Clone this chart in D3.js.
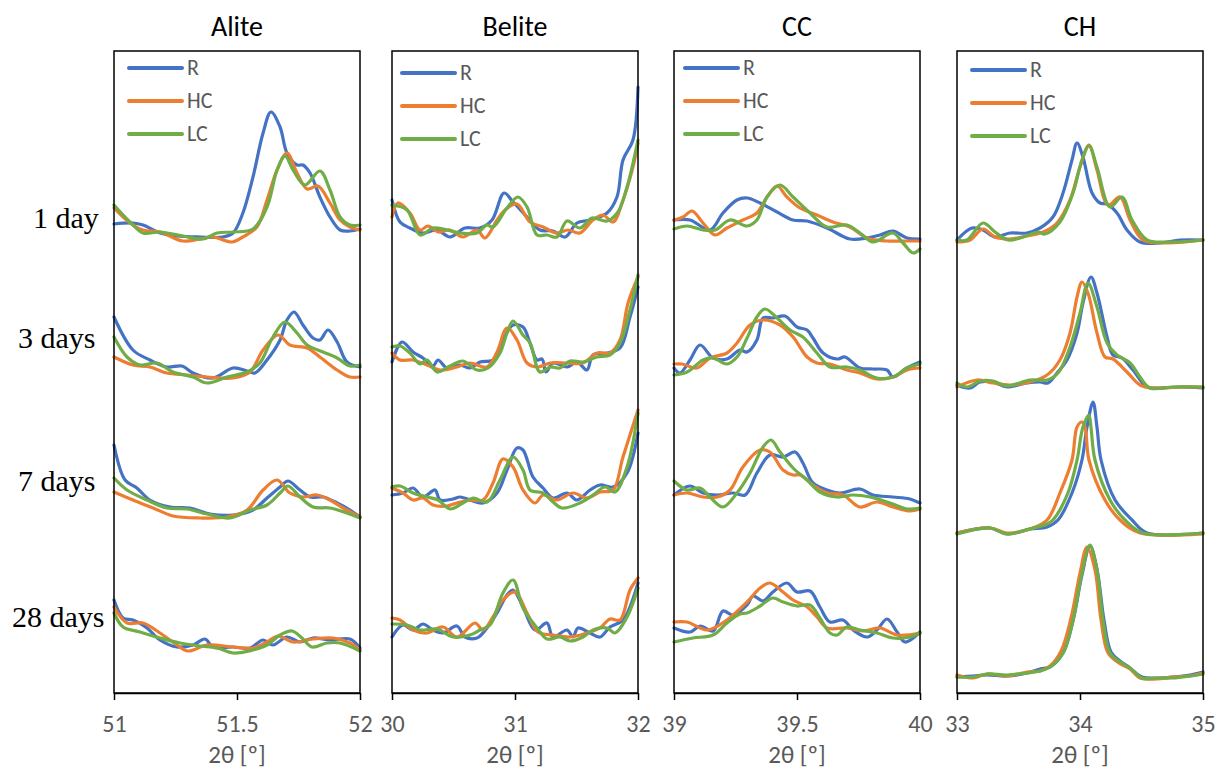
<!DOCTYPE html>
<html>
<head>
<meta charset="utf-8">
<script src="https://cdn.jsdelivr.net/npm/d3@7"></script>
<style>
  html, body { margin: 0; padding: 0; background: #fff; }
  svg { display: block; }
</style>
</head>
<body>
<svg id="chart" width="1216" height="769"></svg>
<script>
// ---------------- data ----------------
const panelNames = ["Alite", "Belite", "CC", "CH"];
const rowLabels = ["1 day", "3 days", "7 days", "28 days"];
const seriesNames = ["R", "HC", "LC"];
const seriesColors = ["#4472C4", "#ED7D31", "#70AD47"];
const xDomains = [[51, 52], [30, 32], [39, 40], [33, 35]];
const xTickValues = [[51, 51.5, 52], [30, 31, 32], [39, 39.5, 40], [33, 34, 35]];
const yDomain = [0, 642]; // stacked intensity, a.u.
const axisTitle = "2θ [º]";

// Alite: [1 day, 3 days, 7 days, 28 days], each a list of [2θ, intensity]
const aliteR = [
  [[51.000,469],[51.077,470],[51.118,468],[51.187,460],[51.256,457],[51.350,456],[51.443,456],[51.484,460],[51.524,480],[51.565,516],[51.606,560],[51.638,581],[51.675,566],[51.703,540],[51.744,528],[51.768,528],[51.797,520],[51.837,496],[51.878,476],[51.919,463],[51.959,462],[52.000,464]],
  [[51.000,376],[51.077,343],[51.146,333],[51.215,326],[51.276,327],[51.321,320],[51.402,315],[51.484,325],[51.541,322],[51.573,320],[51.622,333],[51.675,353],[51.703,373],[51.732,381],[51.768,368],[51.809,355],[51.837,353],[51.870,363],[51.907,351],[51.947,331],[52.000,326]],
  [[51.000,248],[51.045,213],[51.093,205],[51.146,193],[51.228,186],[51.309,185],[51.390,179],[51.484,178],[51.565,183],[51.622,195],[51.675,206],[51.707,212],[51.756,203],[51.797,196],[51.850,196],[51.907,190],[51.959,183],[52.000,176]],
  [[51.000,93],[51.037,75],[51.077,73],[51.134,65],[51.187,53],[51.256,46],[51.321,48],[51.370,54],[51.402,46],[51.484,46],[51.553,45],[51.606,53],[51.646,48],[51.703,56],[51.756,51],[51.809,55],[51.878,53],[51.959,54],[52.000,45]]
];
const aliteHC = [
  [[51.000,485],[51.065,470],[51.118,463],[51.187,461],[51.280,452],[51.350,454],[51.402,456],[51.480,451],[51.524,456],[51.581,466],[51.622,493],[51.663,523],[51.703,540],[51.744,520],[51.785,504],[51.829,507],[51.878,490],[51.919,473],[51.959,466],[52.000,463]],
  [[51.000,336],[51.077,328],[51.146,326],[51.215,320],[51.297,318],[51.378,316],[51.484,315],[51.553,321],[51.606,343],[51.667,358],[51.715,348],[51.785,345],[51.837,336],[51.907,323],[51.959,316],[52.000,316]],
  [[51.000,201],[51.077,193],[51.159,185],[51.240,177],[51.350,175],[51.459,176],[51.541,183],[51.606,203],[51.663,213],[51.715,200],[51.768,196],[51.825,198],[51.878,193],[51.931,185],[52.000,176]],
  [[51.000,86],[51.053,70],[51.118,70],[51.187,60],[51.256,48],[51.301,42],[51.378,48],[51.484,46],[51.565,45],[51.622,51],[51.667,57],[51.728,51],[51.809,54],[51.890,55],[51.959,50],[52.000,43]]
];
const aliteLC = [
  [[51.000,488],[51.065,471],[51.118,460],[51.187,461],[51.280,457],[51.362,454],[51.419,460],[51.484,461],[51.565,464],[51.622,486],[51.663,523],[51.695,537],[51.728,523],[51.776,508],[51.837,522],[51.878,503],[51.919,476],[51.959,468],[52.000,468]],
  [[51.000,356],[51.053,336],[51.106,328],[51.175,330],[51.240,321],[51.321,316],[51.378,310],[51.459,316],[51.541,321],[51.593,330],[51.646,356],[51.695,371],[51.744,360],[51.785,348],[51.850,341],[51.907,335],[51.959,327],[52.000,328]],
  [[51.000,215],[51.053,203],[51.134,193],[51.215,185],[51.297,184],[51.378,179],[51.472,175],[51.553,183],[51.622,188],[51.675,200],[51.707,207],[51.756,196],[51.809,186],[51.878,185],[51.947,180],[52.000,175]],
  [[51.000,80],[51.037,66],[51.106,61],[51.187,55],[51.268,50],[51.350,47],[51.419,45],[51.484,40],[51.565,43],[51.622,48],[51.675,58],[51.724,62],[51.764,55],[51.805,46],[51.866,50],[51.919,50],[52.000,42]]
];

// Belite
const beliteR = [
  [[30.000,493],[30.065,471],[30.146,465],[30.252,460],[30.366,463],[30.472,456],[30.593,465],[30.715,465],[30.813,473],[30.911,500],[30.984,491],[31.098,476],[31.203,463],[31.309,462],[31.407,456],[31.504,470],[31.610,473],[31.748,480],[31.829,496],[31.878,533],[31.959,553],[32.000,606]],
  [[30.000,331],[30.081,351],[30.171,341],[30.252,335],[30.333,327],[30.374,333],[30.447,325],[30.553,328],[30.634,325],[30.715,331],[30.821,333],[30.902,353],[30.984,368],[31.065,366],[31.122,350],[31.179,333],[31.220,334],[31.252,321],[31.309,330],[31.423,326],[31.504,331],[31.585,323],[31.634,338],[31.748,340],[31.854,345],[31.935,376],[32.000,406]],
  [[30.000,198],[30.089,200],[30.171,205],[30.252,196],[30.350,203],[30.390,193],[30.496,194],[30.553,196],[30.634,193],[30.740,190],[30.854,200],[30.935,223],[31.016,245],[31.065,243],[31.146,216],[31.228,205],[31.309,195],[31.423,200],[31.504,193],[31.610,203],[31.691,208],[31.797,206],[31.911,220],[32.000,260]],
  [[30.000,56],[30.089,68],[30.171,63],[30.252,69],[30.333,63],[30.415,60],[30.528,67],[30.593,56],[30.691,55],[30.772,65],[30.854,80],[30.935,98],[30.984,103],[31.065,86],[31.163,63],[31.260,70],[31.309,56],[31.423,63],[31.472,56],[31.512,65],[31.610,60],[31.691,56],[31.772,66],[31.878,73],[32.000,110]]
];
const beliteHC = [
  [[30.000,476],[30.049,490],[30.146,480],[30.228,463],[30.293,467],[30.374,461],[30.472,463],[30.577,456],[30.691,463],[30.756,455],[30.854,473],[30.919,483],[31.016,489],[31.122,471],[31.228,466],[31.341,460],[31.431,463],[31.528,460],[31.634,473],[31.715,478],[31.797,471],[31.878,493],[31.959,526],[32.000,550]],
  [[30.000,340],[30.065,333],[30.171,333],[30.285,328],[30.390,323],[30.528,326],[30.634,330],[30.772,326],[30.854,341],[30.935,365],[31.016,353],[31.098,330],[31.187,326],[31.285,330],[31.423,330],[31.553,330],[31.667,340],[31.772,340],[31.854,353],[31.919,390],[32.000,416]],
  [[30.000,205],[30.089,200],[30.171,193],[30.252,195],[30.333,188],[30.447,187],[30.528,190],[30.634,193],[30.740,193],[30.821,210],[30.902,234],[30.984,226],[31.065,203],[31.163,190],[31.228,198],[31.341,193],[31.472,200],[31.585,195],[31.691,201],[31.797,203],[31.878,236],[32.000,283]],
  [[30.000,75],[30.065,73],[30.171,63],[30.285,60],[30.415,66],[30.528,56],[30.675,70],[30.740,63],[30.821,76],[30.902,93],[31.000,101],[31.098,80],[31.187,61],[31.309,58],[31.447,56],[31.585,60],[31.691,65],[31.772,74],[31.854,73],[31.935,103],[32.000,115]]
];
const beliteLC = [
  [[30.000,488],[30.122,483],[30.228,458],[30.333,465],[30.447,463],[30.553,460],[30.691,460],[30.772,468],[30.821,466],[30.935,485],[31.024,496],[31.098,486],[31.179,458],[31.260,458],[31.341,456],[31.423,472],[31.528,465],[31.626,475],[31.748,472],[31.837,481],[31.911,506],[32.000,553]],
  [[30.000,346],[30.065,347],[30.146,340],[30.228,329],[30.285,333],[30.366,321],[30.472,327],[30.577,332],[30.691,323],[30.780,325],[30.878,340],[30.935,360],[30.984,372],[31.065,358],[31.122,350],[31.203,321],[31.285,326],[31.366,325],[31.447,332],[31.553,331],[31.667,336],[31.772,338],[31.854,350],[31.935,383],[32.000,418]],
  [[30.000,206],[30.065,207],[30.171,200],[30.285,196],[30.374,193],[30.472,184],[30.577,190],[30.659,195],[30.772,191],[30.878,213],[30.984,236],[31.065,223],[31.122,203],[31.228,200],[31.309,191],[31.382,185],[31.528,190],[31.634,198],[31.732,206],[31.813,201],[31.911,226],[32.000,280]],
  [[30.000,69],[30.122,68],[30.228,63],[30.366,64],[30.496,56],[30.634,58],[30.715,63],[30.797,68],[30.902,100],[30.984,113],[31.065,85],[31.179,65],[31.260,54],[31.366,56],[31.447,52],[31.553,56],[31.634,63],[31.748,65],[31.813,60],[31.911,76],[32.000,105]]
];

// CC
const ccR = [
  [[39.000,473],[39.065,473],[39.146,463],[39.199,480],[39.256,493],[39.297,495],[39.350,490],[39.419,481],[39.484,473],[39.541,472],[39.622,465],[39.715,454],[39.785,455],[39.837,458],[39.890,462],[39.947,455],[40.000,454]],
  [[39.000,325],[39.024,320],[39.065,333],[39.106,348],[39.159,335],[39.215,334],[39.268,343],[39.297,341],[39.337,353],[39.362,375],[39.402,375],[39.451,377],[39.500,366],[39.541,363],[39.565,355],[39.606,340],[39.663,334],[39.695,336],[39.756,325],[39.809,324],[39.866,323],[39.890,316],[39.947,325],[40.000,331]],
  [[39.000,198],[39.065,207],[39.118,200],[39.175,198],[39.240,200],[39.289,198],[39.337,220],[39.390,238],[39.443,236],[39.492,241],[39.524,230],[39.565,210],[39.622,203],[39.675,200],[39.756,204],[39.809,198],[39.890,196],[39.959,194],[40.000,190]],
  [[39.000,65],[39.065,61],[39.106,67],[39.159,62],[39.199,82],[39.240,78],[39.297,88],[39.321,97],[39.362,92],[39.402,101],[39.459,110],[39.500,101],[39.553,102],[39.593,86],[39.634,71],[39.687,73],[39.728,63],[39.785,56],[39.825,63],[39.866,74],[39.907,61],[39.939,51],[40.000,61]]
];
const ccHC = [
  [[39.000,473],[39.037,476],[39.073,482],[39.118,470],[39.167,458],[39.215,465],[39.280,473],[39.337,480],[39.378,496],[39.419,507],[39.459,496],[39.512,485],[39.581,478],[39.646,471],[39.715,466],[39.785,455],[39.866,452],[39.947,452],[40.000,452]],
  [[39.000,329],[39.033,329],[39.093,325],[39.146,335],[39.215,340],[39.256,350],[39.309,368],[39.362,373],[39.431,368],[39.484,356],[39.541,336],[39.581,330],[39.634,329],[39.703,323],[39.756,320],[39.825,314],[39.890,316],[39.947,323],[40.000,325]],
  [[39.000,198],[39.053,200],[39.118,196],[39.175,196],[39.228,203],[39.280,226],[39.350,243],[39.390,241],[39.443,223],[39.484,218],[39.512,218],[39.565,208],[39.622,200],[39.687,198],[39.756,186],[39.825,191],[39.890,186],[39.959,182],[40.000,184]],
  [[39.000,71],[39.053,71],[39.134,63],[39.215,73],[39.297,91],[39.350,105],[39.390,110],[39.443,101],[39.484,93],[39.541,86],[39.581,76],[39.622,65],[39.703,65],[39.768,62],[39.837,65],[39.907,58],[40.000,60]]
];
const ccLC = [
  [[39.000,464],[39.053,467],[39.118,463],[39.167,463],[39.228,473],[39.297,467],[39.337,473],[39.378,496],[39.431,508],[39.484,496],[39.553,480],[39.622,466],[39.703,468],[39.756,460],[39.809,451],[39.890,460],[39.931,450],[39.972,440],[40.000,444]],
  [[39.000,318],[39.053,321],[39.118,333],[39.159,335],[39.215,329],[39.256,336],[39.297,355],[39.337,376],[39.370,384],[39.419,375],[39.472,363],[39.524,356],[39.581,340],[39.634,326],[39.703,326],[39.756,323],[39.825,315],[39.890,316],[39.947,325],[40.000,329]],
  [[39.000,212],[39.053,203],[39.106,205],[39.146,196],[39.199,186],[39.256,200],[39.309,220],[39.362,246],[39.394,253],[39.431,241],[39.484,225],[39.541,213],[39.593,201],[39.663,196],[39.728,198],[39.797,196],[39.878,190],[39.947,184],[40.000,185]],
  [[39.000,51],[39.077,55],[39.159,58],[39.215,70],[39.268,79],[39.297,80],[39.350,87],[39.402,95],[39.443,91],[39.500,87],[39.553,88],[39.593,75],[39.634,60],[39.663,58],[39.703,66],[39.756,63],[39.825,60],[39.890,55],[39.959,56],[40.000,60]]
];

// CH
const chR = [
  [[33.000,453],[33.122,465],[33.211,463],[33.309,456],[33.431,460],[33.569,460],[33.675,465],[33.780,476],[33.862,500],[33.935,533],[33.976,550],[34.024,536],[34.098,500],[34.163,490],[34.220,489],[34.301,480],[34.382,463],[34.488,451],[34.650,450],[34.813,453],[35.000,453]],
  [[33.000,308],[33.106,305],[33.187,311],[33.293,311],[33.407,306],[33.569,310],[33.675,311],[33.740,310],[33.813,320],[33.894,333],[33.976,360],[34.024,390],[34.089,416],[34.138,400],[34.220,356],[34.268,338],[34.341,335],[34.431,323],[34.545,306],[34.650,305],[34.813,306],[35.000,305]],
  [[33.000,160],[33.268,165],[33.407,159],[33.593,164],[33.732,166],[33.821,173],[33.935,200],[34.016,233],[34.057,266],[34.106,291],[34.138,266],[34.171,233],[34.285,193],[34.423,173],[34.545,160],[35.000,160]],
  [[33.000,16],[33.130,17],[33.244,18],[33.407,17],[33.569,20],[33.675,24],[33.756,26],[33.862,40],[33.943,72],[34.016,118],[34.081,147],[34.138,124],[34.195,73],[34.252,41],[34.325,32],[34.407,25],[34.504,16],[34.626,15],[34.756,16],[34.894,18],[35.000,21]]
];
const chHC = [
  [[33.000,451],[33.106,453],[33.211,464],[33.309,456],[33.431,454],[33.569,457],[33.699,461],[33.813,470],[33.919,493],[34.000,526],[34.073,548],[34.138,523],[34.228,488],[34.325,496],[34.407,473],[34.512,453],[34.707,450],[35.000,453]],
  [[33.000,306],[33.163,313],[33.293,310],[33.431,308],[33.593,311],[33.732,318],[33.837,333],[33.919,360],[33.976,396],[34.016,411],[34.065,400],[34.138,360],[34.203,336],[34.268,334],[34.382,321],[34.488,308],[34.593,305],[34.813,306],[35.000,306]],
  [[33.000,160],[33.268,165],[33.407,160],[33.593,164],[33.732,173],[33.837,200],[33.935,233],[33.976,266],[34.016,271],[34.041,266],[34.073,233],[34.203,193],[34.325,173],[34.488,160],[35.000,159]],
  [[33.000,18],[33.130,15],[33.244,19],[33.407,17],[33.569,21],[33.675,22],[33.756,27],[33.846,42],[33.927,75],[34.000,120],[34.057,146],[34.122,123],[34.171,73],[34.228,40],[34.317,30],[34.407,24],[34.488,15],[34.626,14],[34.756,16],[34.894,17],[35.000,20]]
];
const chLC = [
  [[33.000,453],[33.081,453],[33.211,470],[33.309,461],[33.415,453],[33.537,456],[33.659,461],[33.715,459],[33.837,471],[33.943,500],[34.016,533],[34.073,547],[34.138,526],[34.244,486],[34.341,496],[34.423,473],[34.545,453],[34.732,451],[35.000,453]],
  [[33.000,310],[33.081,306],[33.187,312],[33.293,312],[33.407,307],[33.593,313],[33.732,313],[33.821,320],[33.919,346],[34.000,380],[34.065,410],[34.138,386],[34.220,350],[34.301,338],[34.407,330],[34.488,316],[34.569,305],[34.756,306],[35.000,306]],
  [[33.000,159],[33.268,165],[33.407,159],[33.593,164],[33.732,169],[33.780,173],[33.902,200],[33.976,233],[34.024,266],[34.073,278],[34.089,266],[34.122,233],[34.244,193],[34.366,173],[34.512,160],[35.000,160]],
  [[33.000,16],[33.130,16],[33.244,19],[33.407,18],[33.569,20],[33.675,22],[33.756,26],[33.862,40],[33.943,73],[34.016,120],[34.081,148],[34.138,123],[34.187,73],[34.244,40],[34.325,31],[34.407,25],[34.504,15],[34.626,15],[34.756,15],[34.894,17],[35.000,19]]
];

const panelSeries = [
  [aliteR, aliteHC, aliteLC],
  [beliteR, beliteHC, beliteLC],
  [ccR, ccHC, ccLC],
  [chR, chHC, chLC]
];

// ---------------- layout ----------------
const panelLeft = [114, 392, 674, 957];
const panelWidth = 246;
const plotTop = 51, plotBottom = 693;
const legendLayout = [
  { dx: 15, y0: 68 }, { dx: 10, y0: 73 }, { dx: 11, y0: 68 }, { dx: 15, y0: 70 }
];
const rowLabelPos = [[33, 228], [18, 348], [18, 491], [12, 627]];

const sansFont = "Carlito, 'Open Sans', 'Noto Sans', sans-serif";
const gray = "#595959";

const svg = d3.select("#chart");
const y = d3.scaleLinear().domain(yDomain).range([plotBottom, plotTop]);

panelNames.forEach((name, p) => {
  const x = d3.scaleLinear().domain(xDomains[p]).range([panelLeft[p], panelLeft[p] + panelWidth]);
  const g = svg.append("g");

  // title
  g.append("text")
    .attr("x", panelLeft[p] + panelWidth / 2).attr("y", 36)
    .attr("text-anchor", "middle")
    .style("font-family", sansFont).style("font-size", "28px").style("fill", "#000")
    .text(name);

  // lines
  const line = d3.line()
    .x(d => x(d[0])).y(d => y(d[1]))
    .curve(d3.curveCatmullRom.alpha(0.5));
  panelSeries[p].forEach((rows, s) => {
    rows.forEach(pts => {
      g.append("path")
        .attr("d", line(pts))
        .attr("fill", "none")
        .attr("stroke", seriesColors[s])
        .attr("stroke-width", 3.2)
        .attr("stroke-linejoin", "round")
        .attr("stroke-linecap", "round");
    });
  });

  // frame
  g.append("rect")
    .attr("x", panelLeft[p]).attr("y", plotTop)
    .attr("width", panelWidth).attr("height", plotBottom - plotTop)
    .attr("fill", "none").attr("stroke", "#000").attr("stroke-width", 1.5);

  // x axis
  const ax = g.append("g")
    .attr("transform", `translate(0,${plotBottom})`)
    .call(d3.axisBottom(x).tickValues(xTickValues[p]).tickSize(7).tickSizeOuter(0).tickPadding(15).tickFormat(d3.format("~g")));
  ax.select(".domain").attr("stroke", "#000").attr("stroke-width", 1.5);
  ax.selectAll(".tick line").attr("stroke", "#000").attr("stroke-width", 1.5);
  ax.selectAll(".tick text")
    .style("font-family", sansFont).style("font-size", "24px").style("fill", gray);

  // axis title
  g.append("text")
    .attr("x", panelLeft[p] + panelWidth / 2).attr("y", 763)
    .attr("text-anchor", "middle")
    .style("font-family", sansFont).style("font-size", "25px").style("fill", gray)
    .text(axisTitle);

  // legend
  const lg = legendLayout[p];
  seriesNames.forEach((sn, s) => {
    const ly = lg.y0 + s * 33;
    g.append("line")
      .attr("x1", panelLeft[p] + lg.dx).attr("x2", panelLeft[p] + lg.dx + 53)
      .attr("y1", ly).attr("y2", ly)
      .attr("stroke", seriesColors[s]).attr("stroke-width", 4).attr("stroke-linecap", "round");
    g.append("text")
      .attr("x", panelLeft[p] + lg.dx + 58).attr("y", ly)
      .attr("dy", "0.34em")
      .style("font-family", sansFont).style("font-size", "22px").style("fill", gray)
      .text(sn);
  });
});

// row labels
rowLabels.forEach((lab, i) => {
  svg.append("text")
    .attr("x", rowLabelPos[i][0]).attr("y", rowLabelPos[i][1])
    .style("font-family", "'Liberation Serif', 'Times New Roman', serif")
    .style("font-size", "30px").style("fill", "#000")
    .text(lab);
});
</script>
</body>
</html>
